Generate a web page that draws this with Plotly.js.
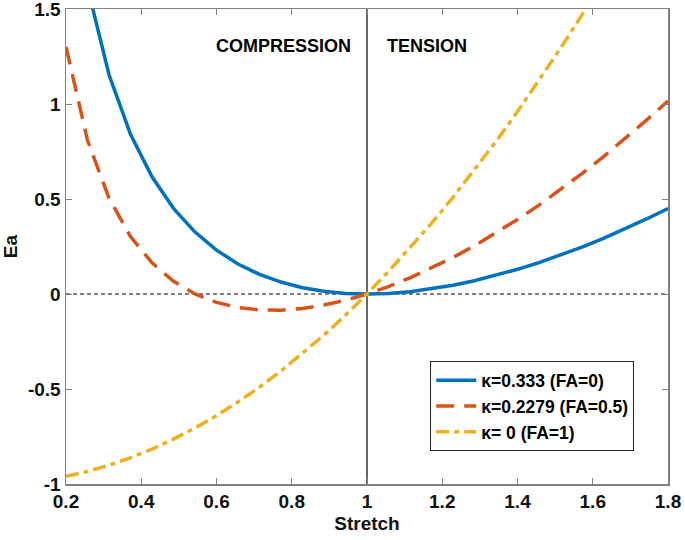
<!DOCTYPE html>
<html>
<head>
<meta charset="utf-8">
<script src="https://cdn.plot.ly/plotly-3.0.1.min.js"></script>
<style>html,body{margin:0;padding:0;background:#fff;}#chart{width:685px;height:540px;}</style>
</head>
<body>
<div id="chart"></div>
<script>
var stretch = [0.2000, 0.2571, 0.3143, 0.3714, 0.4286, 0.4857, 0.5429, 0.6000, 0.6571, 0.7143, 0.7714, 0.8286, 0.8857, 0.9429, 1.0000, 1.0571, 1.1143, 1.1714, 1.2286, 1.2857, 1.3429, 1.4000, 1.4571, 1.5143, 1.5714, 1.6286, 1.6857, 1.7429, 1.8000];
var eaFA0 = [2.347, 1.615, 1.154, 0.841, 0.617, 0.451, 0.326, 0.231, 0.158, 0.103, 0.063, 0.033, 0.014, 0.003, 0.000, 0.003, 0.012, 0.027, 0.046, 0.070, 0.098, 0.130, 0.165, 0.205, 0.247, 0.293, 0.343, 0.395, 0.450];
var eaFA05 = [1.301, 0.809, 0.504, 0.302, 0.164, 0.067, 0.000, -0.044, -0.071, -0.084, -0.085, -0.076, -0.058, -0.033, 0.000, 0.039, 0.085, 0.136, 0.192, 0.254, 0.321, 0.392, 0.468, 0.549, 0.634, 0.723, 0.817, 0.915, 1.016];
var eaFA1 = [-0.960, -0.934, -0.901, -0.862, -0.816, -0.764, -0.705, -0.640, -0.568, -0.490, -0.405, -0.313, -0.216, -0.111, 0.000, 0.118, 0.242, 0.372, 0.509, 0.653, 0.803, 0.960, 1.123, 1.293, 1.469, 1.652, 1.842, 2.038, 2.240];
var seriesNames = ['\u03BA=0.333 (FA=0)', '\u03BA=0.2279 (FA=0.5)', '\u03BA= 0 (FA=1)'];
var xTicks = [0.2, 0.4, 0.6, 0.8, 1, 1.2, 1.4, 1.6, 1.8];
var xTickText = ['0.2', '0.4', '0.6', '0.8', '1', '1.2', '1.4', '1.6', '1.8'];
var yTicks = [-1, -0.5, 0, 0.5, 1, 1.5];
var yTickText = ['-1', '-0.5', '0', '0.5', '1', '1.5'];
var regionLabels = ['COMPRESSION', 'TENSION'];

var FONT = 'Liberation Sans, Arial, sans-serif';
function bold(arr) { return arr.map(function (s) { return '<b>' + s + '</b>'; }); }
var traces = [
  {x: stretch, y: eaFA0, mode: 'lines', name: '<b>' + seriesNames[0] + '</b>', line: {color: '#0072BD', width: 3.5}},
  {x: stretch, y: eaFA05, mode: 'lines', name: '<b>' + seriesNames[1] + '</b>', line: {color: '#D95319', width: 3.5, dash: '18px,10px'}},
  {x: stretch, y: eaFA1, mode: 'lines', name: '<b>' + seriesNames[2] + '</b>', line: {color: '#EDB120', width: 3.5, dash: '13px,5px,5px,5px'}}
];
var axisCommon = {
  showgrid: false, zeroline: false, showline: true, mirror: 'ticks',
  linecolor: '#808080', linewidth: 1.5, ticks: 'inside', ticklen: 6, tickcolor: '#808080', tickwidth: 1,
  ticklabeloverflow: 'allow',
  tickfont: {family: FONT, size: 19, color: '#111'}
};
var layout = {
  width: 685, height: 540,
  margin: {l: 66, r: 17, t: 9, b: 56},
  paper_bgcolor: '#fff', plot_bgcolor: '#fff',
  font: {family: FONT},
  xaxis: Object.assign({}, axisCommon, {
    range: [0.2, 1.8], tickvals: xTicks, ticktext: bold(xTickText),
    title: {text: '<b>Stretch</b>', font: {family: FONT, size: 19, color: '#111'}, standoff: 5}
  }),
  yaxis: Object.assign({}, axisCommon, {
    range: [-1, 1.5], tickvals: yTicks, ticktext: bold(yTickText),
    title: {text: '<b>Ea</b>', font: {family: FONT, size: 19, color: '#111'}, standoff: 10}
  }),
  shapes: [
    {type: 'line', xref: 'paper', yref: 'y', x0: 0, x1: 1, y0: 0, y1: 0, line: {color: '#000', width: 1, dash: '4px,3px'}, layer: 'below'},
    {type: 'line', xref: 'x', yref: 'paper', x0: 1, x1: 1, y0: 0, y1: 1, line: {color: '#000', width: 1.2}, layer: 'below'}
  ],
  annotations: [
    {x: 0.777, y: 1.306, xref: 'x', yref: 'y', text: '<b>' + regionLabels[0] + '</b>', showarrow: false, font: {family: FONT, size: 18, color: '#000'}},
    {x: 1.16, y: 1.306, xref: 'x', yref: 'y', text: '<b>' + regionLabels[1] + '</b>', showarrow: false, font: {family: FONT, size: 18, color: '#000'}}
  ],
  showlegend: true,
  legend: {
    x: 0.605, y: 0.258, xanchor: 'left', yanchor: 'top',
    bgcolor: '#fff', bordercolor: '#262626', borderwidth: 1,
    font: {family: FONT, size: 17.5, color: '#000'},
    tracegroupgap: 0, itemwidth: 40
  }
};
Plotly.newPlot('chart', traces, layout, {displayModeBar: false, staticPlot: true});
</script>
</body>
</html>
